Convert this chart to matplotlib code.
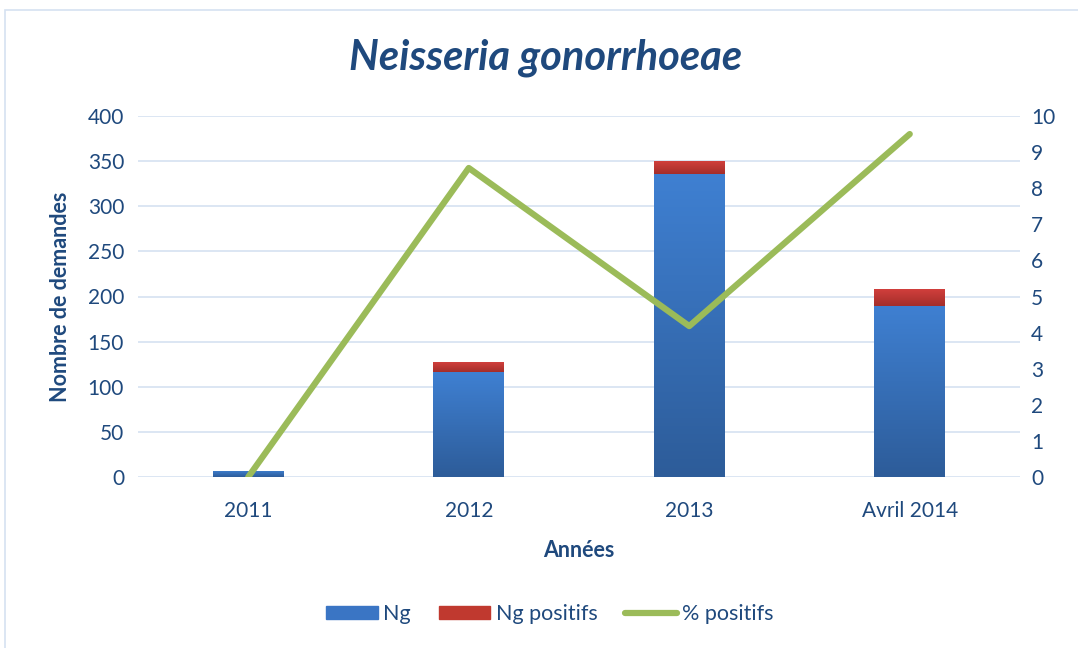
import matplotlib
matplotlib.use("Agg")
import matplotlib.pyplot as plt
import numpy as np
from matplotlib.patches import Rectangle
from matplotlib.lines import Line2D

categories = ["2011", "2012", "2013", "Avril 2014"]
ng = [7, 116, 336, 190]
ng_positifs = [0, 11, 14, 18]
pct_positifs = [0, 8.56, 4.18, 9.5]

TXT = "#1F497D"
plt.rcParams['font.family'] = ['Lato', 'DejaVu Sans']

fig = plt.figure(figsize=(10.78, 6.48), dpi=100)
fig.patches.append(Rectangle((5/1078, -0.01), 1.02, 1 - 10/648 + 0.01, transform=fig.transFigure,
                             fill=False, edgecolor="#D6E2F1", linewidth=1.2))
ax = fig.add_axes([138/1078, 1 - 477/648, (1020-138)/1078, (477-116)/648])
ax2 = ax.twinx()

x = np.arange(len(categories))
w = 0.32

def gradient_bars(bars, top, bottom):
    cmap = matplotlib.colors.LinearSegmentedColormap.from_list("g", [bottom, top])
    grad = np.linspace(0, 1, 256).reshape(-1, 1)
    for b in bars:
        if b.get_height() <= 0:
            continue
        x0, y0 = b.get_x(), b.get_y()
        im = ax.imshow(grad, cmap=cmap, origin="lower", aspect="auto",
                       extent=[x0, x0 + b.get_width(), y0, y0 + b.get_height()], zorder=2)
        im.set_clip_path(b)

b1 = ax.bar(x, ng, w, color="#3A75C4", zorder=2, linewidth=0)
b2 = ax.bar(x, ng_positifs, w, bottom=ng, color="#C0392F", zorder=2, linewidth=0)
gradient_bars(b1, "#3F80D2", "#2D5C99")
gradient_bars(b2, "#D13F3C", "#A42E2A")

ax.set_xlim(-0.5, len(categories) - 0.5)
ax.set_ylim(0, 400)
ax.set_yticks(range(0, 401, 50))
ax.grid(axis="y", color="#D9E4F2", linewidth=1.3, zorder=0)
ax.set_axisbelow(True)
for s in ax.spines.values():
    s.set_visible(False)
for s in ax2.spines.values():
    s.set_visible(False)
ax.set_xticks(x)
ax.set_xticklabels(categories)
ax.tick_params(axis="both", length=0, labelsize=15, colors=TXT, pad=10)
ax.tick_params(axis="x", pad=17)

ax2.plot(x, pct_positifs, color="#9BBB59", linewidth=4.5, solid_capstyle="round", zorder=3)
ax2.set_ylim(0, 10)
ax2.set_yticks(range(0, 11))
ax2.tick_params(axis="y", length=0, labelsize=15, colors=TXT, pad=8)

ax.set_ylabel("Nombre de demandes", fontsize=15.5, fontweight="bold", color=TXT, labelpad=12)
ax.set_xlabel("Années", fontsize=15.5, fontweight="bold", color=TXT, labelpad=14)
fig.text(546/1078, 1 - 58/648, "Neisseria gonorrhoeae", ha="center", va="center",
         fontsize=30, fontweight="bold", style="italic", color=TXT)

handles = [Rectangle((0, 0), 1, 1, color="#3A75C4"),
           Rectangle((0, 0), 1, 1, color="#C0392F"),
           Line2D([0], [0], color="#9BBB59", linewidth=4.5, solid_capstyle="round")]
leg = fig.legend(handles, ["Ng", "Ng positifs", "% positifs"], loc="center",
                 bbox_to_anchor=(550/1078, 1 - 614/648), ncol=3, frameon=False,
                 fontsize=15.5, handlelength=2.4, handleheight=0.6, columnspacing=1.3, handletextpad=0.25)
for t in leg.get_texts():
    t.set_color(TXT)

fig.savefig("out.png", dpi=100)
